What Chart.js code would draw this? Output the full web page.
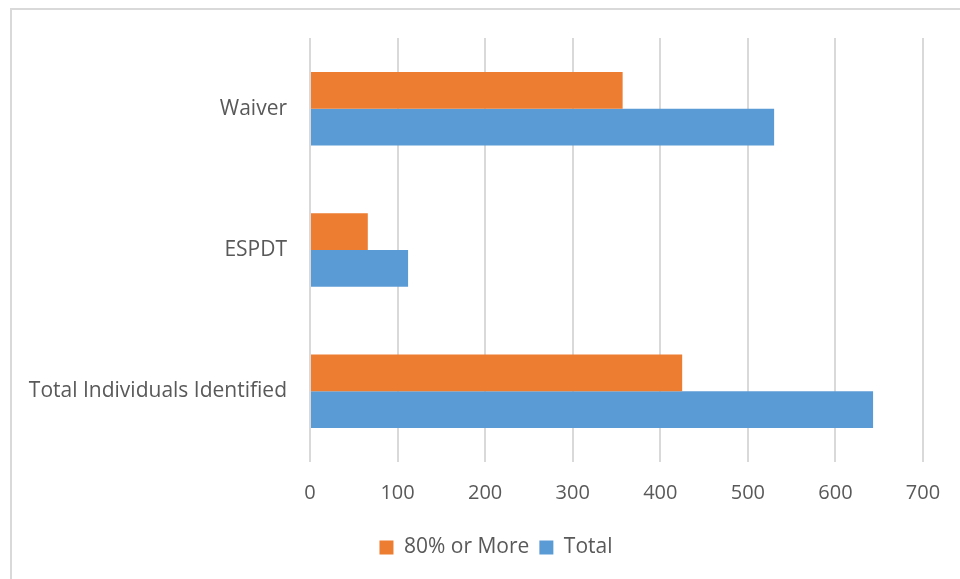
<!DOCTYPE html>
<html>
<head>
<meta charset="utf-8">
<script src="https://cdn.jsdelivr.net/npm/chart.js@4"></script>
<style>
html,body{margin:0;padding:0;background:#fff;}
#wrap{width:960px;height:579px;position:relative;}
</style>
</head>
<body>
<div id="wrap"><canvas id="c" width="960" height="579"></canvas></div>
<script>
const categories = ["Waiver", "ESPDT", "Total Individuals Identified"];
const seriesNames = ["80% or More", "Total"];
const eightyOrMore = [357, 66, 425];
const total = [530, 112, 643];
const xTicks = [0, 100, 200, 300, 400, 500, 600, 700];

const borderPlugin = {
  id: 'outerBorder',
  beforeDraw(chart) {
    const ctx = chart.ctx;
    ctx.save();
    ctx.fillStyle = '#ffffff';
    ctx.fillRect(0, 0, chart.width, chart.height);
    ctx.strokeStyle = '#d9d9d9';
    ctx.lineWidth = 2;
    ctx.strokeRect(11, 9, 1000, 700);
    ctx.restore();
  }
};

// shift the legend so it is centred where the reference places it
const legendShift = {
  id: 'legendShift',
  afterLayout(chart) {
    if (chart.legend) { chart.legend.left += 69; }
  }
};

const FONT = "'Open Sans', 'Liberation Sans', sans-serif";

new Chart(document.getElementById('c'), {
  type: 'bar',
  data: {
    labels: categories,
    datasets: [
      { label: seriesNames[0], data: eightyOrMore, backgroundColor: '#ED7D31', borderWidth: 0, barPercentage: 1.0, categoryPercentage: 0.52 },
      { label: seriesNames[1], data: total, backgroundColor: '#5B9BD5', borderWidth: 0, barPercentage: 1.0, categoryPercentage: 0.52 }
    ]
  },
  options: {
    indexAxis: 'y',
    responsive: false,
    animation: false,
    devicePixelRatio: 1,
    layout: { padding: { left: 0, top: 38, right: 37, bottom: 11 } },
    scales: {
      x: {
        min: 0, max: 700,
        afterBuildTicks(scale) { scale.ticks = xTicks.map(v => ({ value: v })); },
        grid: { color: '#d9d9d9', lineWidth: 2, drawTicks: false },
        border: { display: false },
        ticks: { color: '#595959', font: { family: FONT, size: 20 }, padding: 19 },
        afterFit(scale) { scale.height = 65; }
      },
      y: {
        grid: { display: false, drawTicks: false },
        border: { display: false },
        ticks: { color: '#595959', font: { family: FONT, size: 21 }, padding: 23 },
        afterFit(scale) { scale.width = 310; }
      }
    },
    plugins: {
      legend: {
        position: 'bottom',
        labels: {
          color: '#595959',
          font: { family: FONT, size: 21 },
          boxWidth: 14, boxHeight: 14,
          padding: 10
        }
      },
      tooltip: { enabled: false }
    }
  },
  plugins: [borderPlugin, legendShift]
});
</script>
</body>
</html>
